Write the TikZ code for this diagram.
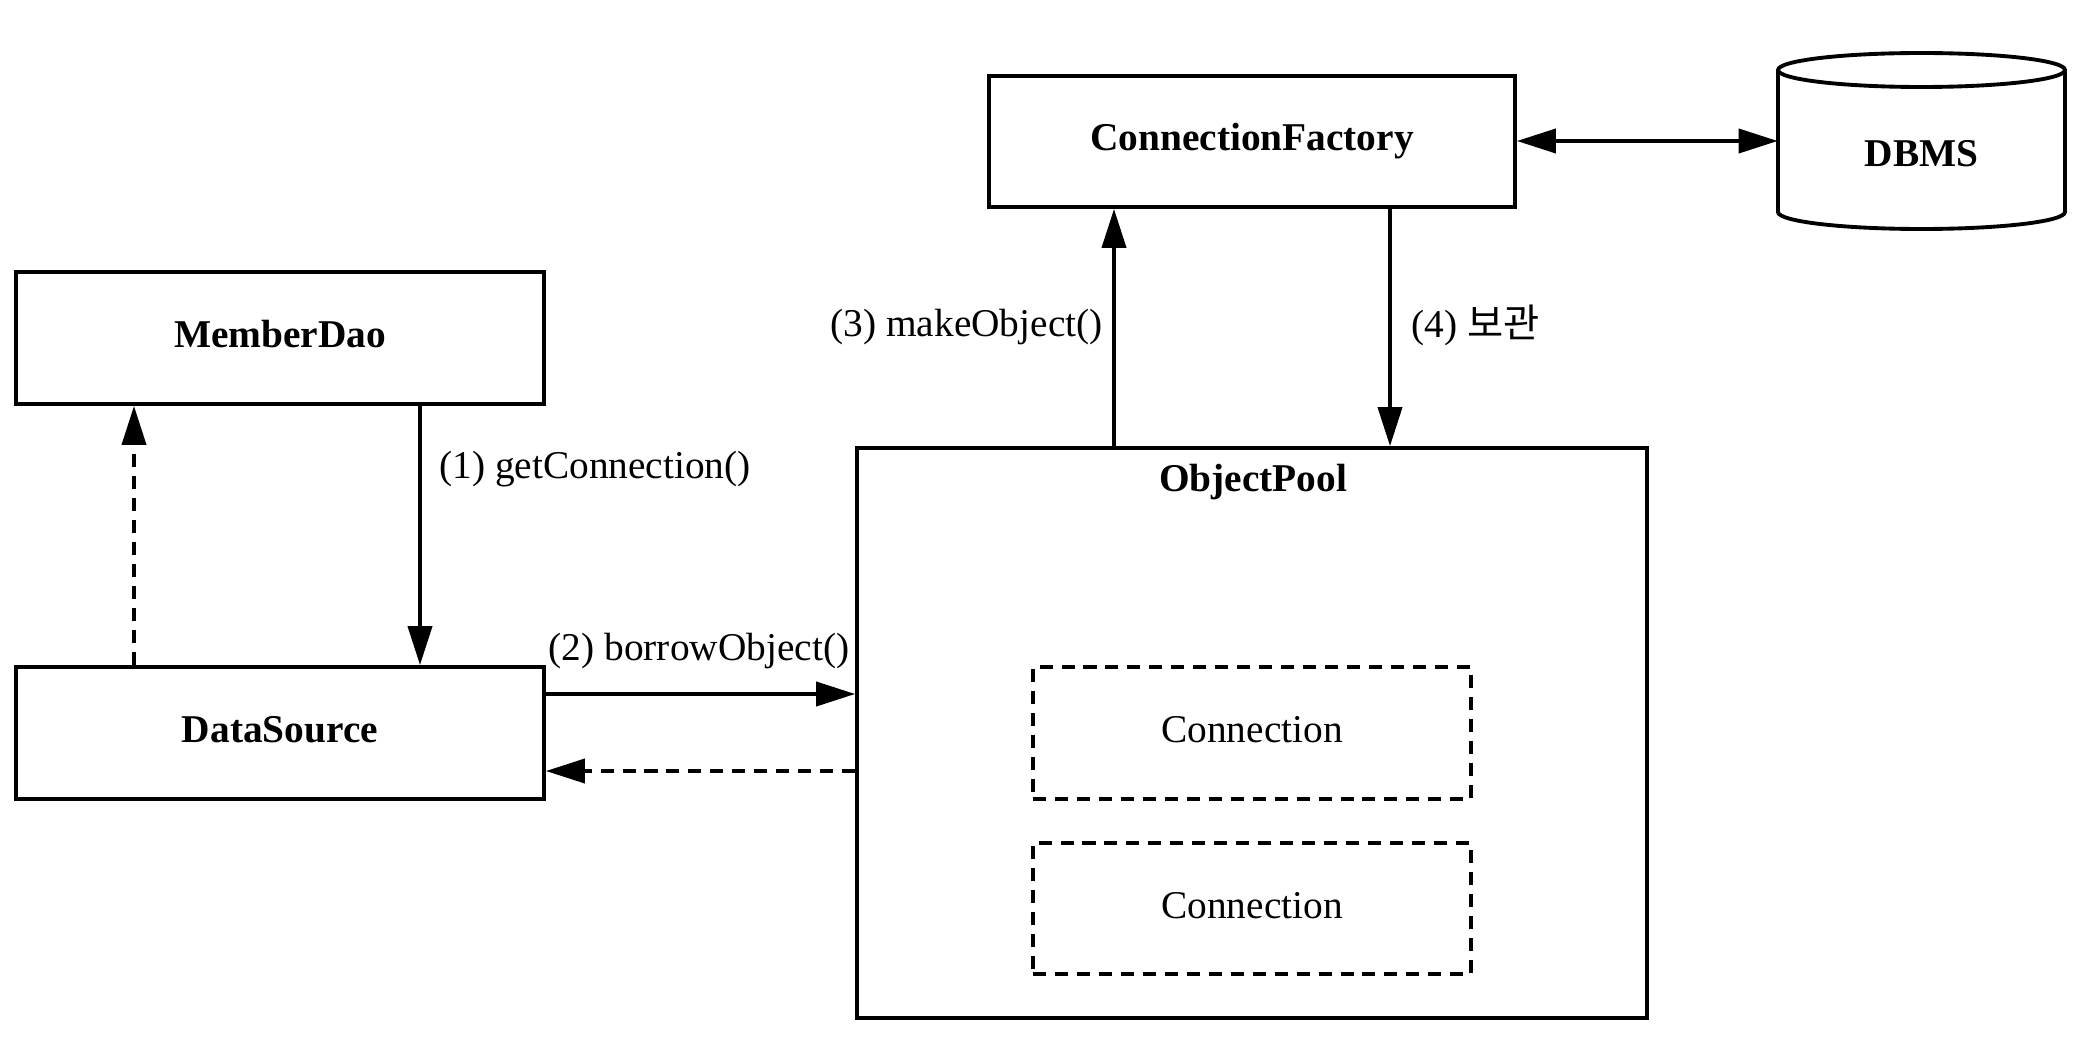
\documentclass[tikz,border=0pt]{standalone}
\usepackage{fontspec}
\setmainfont{Liberation Serif}
\newfontfamily\kr{Noto Sans CJK KR}
\usetikzlibrary{arrows.meta,calc}
\begin{document}
\begin{tikzpicture}[x=0.02cm,y=-0.02cm,
  base/.style={font=\fontsize{22.4}{27}\selectfont},
  box/.style={base,draw,line width=2.2pt,inner sep=0pt,text height=0.6cm,text depth=0.22cm,font=\fontsize{22.4}{27}\selectfont\bfseries},
  dbox/.style={base,draw,line width=2.2pt,inner sep=0pt,text height=0.6cm,text depth=0.22cm,dash pattern=on 7.4pt off 5.1pt},
  lbl/.style={base,inner sep=0pt},
  arr/.style={line width=2.2pt,-{Triangle[length=0.78cm,width=0.48cm]}},
  darr/.style={arr,dash pattern=on 7.4pt off 5.1pt},
  biarr/.style={line width=2.2pt,{Triangle[length=0.78cm,width=0.48cm]}-{Triangle[length=0.78cm,width=0.48cm]}}
]
\useasboundingbox (0,0) rectangle (2084,1040);
% boxes
\node[box,minimum width=10.56cm,minimum height=2.64cm] (md) at (280,338) {MemberDao};
\node[box,minimum width=10.56cm,minimum height=2.64cm] (ds) at (280,733) {DataSource};
\node[box,minimum width=10.52cm,minimum height=2.62cm] (cf) at (1252,141.5) {ConnectionFactory};
\node[box,minimum width=15.8cm,minimum height=11.4cm] (op) at (1252,733) {};
\node[lbl,font=\fontsize{22.4}{27}\selectfont\bfseries] (opl) at (1253,482) {ObjectPool};
\node[dbox,minimum width=8.76cm,minimum height=2.64cm] (c1) at (1252,733) {Connection};
\node[dbox,minimum width=8.76cm,minimum height=2.62cm] (c2) at (1252,908.5) {Connection};
% DBMS cylinder
\node[lbl,minimum width=5.74cm,minimum height=3.52cm] (db) at (1921.5,141) {};
\draw[line width=2.2pt] (1921.5,70) ellipse [x radius=2.87cm,y radius=0.34cm];
\draw[line width=2.2pt] (1778,70) -- (1778,212) arc[start angle=180,end angle=360,x radius=2.87cm,y radius=0.34cm] -- (2065,70);
\node[lbl,font=\fontsize{22.4}{27}\selectfont\bfseries] (dbl) at (1921.5,154) {DBMS};
% helper coordinates
\coordinate (x1) at (420,0);
\coordinate (x0) at (134,0);
\coordinate (y2) at (0,694);
\coordinate (y2b) at (0,771);
\coordinate (x3) at (1114,0);
\coordinate (x4) at (1390,0);
\coordinate (y5) at (0,141);
% connectors
\draw[arr] (md.south -| x1) -- (ds.north -| x1);
\draw[darr] (ds.north -| x0) -- (md.south -| x0);
\draw[arr] (ds.east |- y2) -- (op.west |- y2);
\draw[darr] (op.west |- y2b) -- (ds.east |- y2b);
\draw[arr] (op.north -| x3) -- (cf.south -| x3);
\draw[arr] (cf.south -| x4) -- (op.north -| x4);
\draw[biarr] (cf.east |- y5) -- (db.west |- y5);
% labels
\node[lbl,anchor=west] (l1) at (439,469) {(1) getConnection()};
\node[lbl] (l2) at (699,651) {(2) borrowObject()};
\node[lbl,anchor=east] (l3) at (1103,327) {(3) makeObject()};
\node[lbl,anchor=west] (l4) at (1411,325) {(4) {\kr 보관}};
\end{tikzpicture}
\end{document}
